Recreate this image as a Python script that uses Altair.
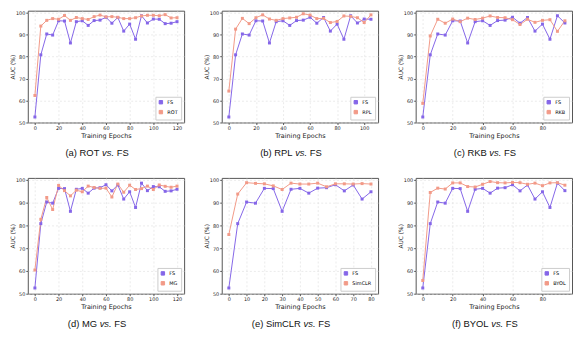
import altair as alt
import pandas as pd

epochs = list(range(0, 125, 5))
fs = [52.5, 80.8, 90.3, 89.8, 96.3, 96.2, 86.2, 95.9, 96.3, 94.2, 96.4, 96.6, 97.9,
      95.2, 97.8, 91.6, 94.8, 87.9, 98.6, 95.3, 97.1, 97.0, 95.0, 95.2, 95.9]
rot = [62.3, 93.9, 96.5, 97.3, 97.0, 98.7, 96.5, 97.8, 97.3, 96.9, 98.2, 98.9, 98.1,
       98.2, 97.9, 97.3, 97.3, 97.7, 98.5, 98.8, 98.8, 98.6, 99.1, 97.6, 97.7]
rpl = [64.3, 92.5, 97.4, 95.0, 97.7, 99.0, 97.1, 96.5, 97.3, 97.6, 97.9, 99.5, 98.9,
       97.3, 97.4, 95.5, 96.0, 98.5, 98.3, 97.7, 95.5, 99.0]
rkb = [58.7, 89.4, 97.0, 95.2, 97.1, 95.9, 97.5, 96.9, 97.5, 98.5, 97.8, 97.7, 96.8,
       94.6, 97.0, 95.6, 96.5, 96.8, 91.5, 96.3]
mg = [60.4, 82.7, 92.3, 87.0, 97.6, 95.3, 93.0, 95.5, 94.8, 97.3, 96.7, 96.3, 96.4,
      92.5, 98.2, 94.6, 97.7, 95.8, 96.2, 97.3, 95.8, 97.8, 97.2, 96.8, 97.3]
simclr = [76.0, 93.8, 98.8, 98.5, 98.3, 97.4, 95.8, 98.6, 98.2, 98.2, 98.6, 97.0, 98.3,
          98.3, 98.2, 98.4, 98.2]
byol = [55.8, 94.5, 96.4, 96.0, 98.7, 98.7, 97.1, 96.9, 98.1, 99.3, 98.8, 98.7, 98.9,
        98.8, 98.1, 98.6, 97.5, 98.7, 98.8, 97.7]

panels = [
    ("(a)", "ROT", rot, 20),
    ("(b)", "RPL", rpl, 20),
    ("(c)", "RKB", rkb, 20),
    ("(d)", "MG", mg, 20),
    ("(e)", "SimCLR", simclr, 10),
    ("(f)", "BYOL", byol, 20),
]

PURPLE = "#8566e8"
SALMON = "#f29a88"
W = 158
H_ROW = [113, 117]
CAP_GAP = [31, 31]
CAP_FS = 9.5

# Arial / Liberation Sans advance widths (per 1000 em) for caption layout
ADV = {"(": 333, ")": 333, " ": 278, ".": 278, "a": 556, "b": 556, "c": 500, "d": 556,
       "e": 556, "f": 278, "i": 222, "m": 833, "s": 500, "v": 500, "B": 667, "C": 722,
       "F": 611, "G": 778, "K": 667, "L": 556, "M": 833, "O": 778, "P": 667, "R": 722,
       "S": 667, "T": 611, "Y": 667}


def tw(s):
    return sum(ADV.get(c, 556) for c in s) * CAP_FS / 1000.0


def caption_layers(tag, name, h, gap):
    p1, p2, p3 = f"{tag} {name}", "vs.", "FS"
    sp = tw(" ")
    total = tw(p1) + sp + tw(p2) + sp + tw(p3)
    cx = 70
    x0 = cx - total / 2
    src = alt.Chart(pd.DataFrame({"k": [0]}))
    out = []
    for txt, x, style in [(p1, x0, "normal"), (p2, x0 + tw(p1) + sp, "italic"),
                          (p3, x0 + tw(p1) + sp + tw(p2) + sp, "normal")]:
        out.append(src.mark_text(align="left", baseline="middle", font="Liberation Sans",
                                 fontSize=CAP_FS, fontStyle=style, color="#111111").encode(
            x=alt.value(x), y=alt.value(h + gap), text=alt.value(txt)))
    return out


def panel(tag, name, vals, step, row):
    h = H_ROW[row]
    n = len(vals)
    xmax = epochs[n - 1]
    df = pd.DataFrame({
        "epoch": epochs[:n] * 2,
        "auc": fs[:n] + vals,
        "series": ["FS"] * n + [name] * n,
    })
    color = alt.Color(
        "series:N",
        scale=alt.Scale(domain=["FS", name], range=[PURPLE, SALMON]),
        legend=alt.Legend(title=None, orient="bottom-right", symbolType="square",
                          symbolSize=12, labelFontSize=5, rowPadding=1,
                          padding=3, strokeColor="#cccccc", fillColor="white",
                          offset=3, symbolStrokeWidth=1),
    )
    base = alt.Chart(df).encode(
        x=alt.X("epoch:Q",
                scale=alt.Scale(domain=[-0.05 * xmax, 1.05 * xmax], nice=False, zero=False),
                axis=alt.Axis(values=list(range(0, xmax + 1, step)), title="Training Epochs")),
        y=alt.Y("auc:Q", scale=alt.Scale(domain=[50, 100.9], nice=False, zero=False),
                axis=alt.Axis(values=[50, 60, 70, 80, 90, 100], title="AUC (%)",
                              titlePadding=0, titleFontSize=6)),
        color=color,
        order="epoch:Q",
    )
    lines = base.mark_line(strokeWidth=1)
    pts = base.mark_point(shape="square", filled=True, size=9, opacity=1)
    return alt.layer(lines, pts, *caption_layers(tag, name, h, CAP_GAP[row])).properties(
        width=W, height=h)


row1 = alt.hconcat(*[panel(*p, 0) for p in panels[:3]], spacing=17).resolve_scale(color="independent")
row2 = alt.hconcat(*[panel(*p, 1) for p in panels[3:]], spacing=17).resolve_scale(color="independent")
chart = alt.vconcat(row1, row2, spacing=19).resolve_scale(color="independent").configure_view(
    stroke="#555555", strokeWidth=1
).configure_axis(
    labelFont="DejaVu Sans", labelFontSize=5, labelColor="#222222", labelPadding=1,
    titleFont="DejaVu Sans", titleFontSize=6.5, titleFontWeight="normal", titleColor="#222222",
    titlePadding=2, tickSize=2, tickColor="#555555", domain=False,
    gridColor="#dddddd", gridDash=[2, 2], gridWidth=0.6,
).configure_legend(labelFont="DejaVu Sans").properties(
    padding={"left": 0, "top": 0, "right": 0, "bottom": 0})

chart.save("out.html", embed_options={"renderer": "svg", "actions": False})
